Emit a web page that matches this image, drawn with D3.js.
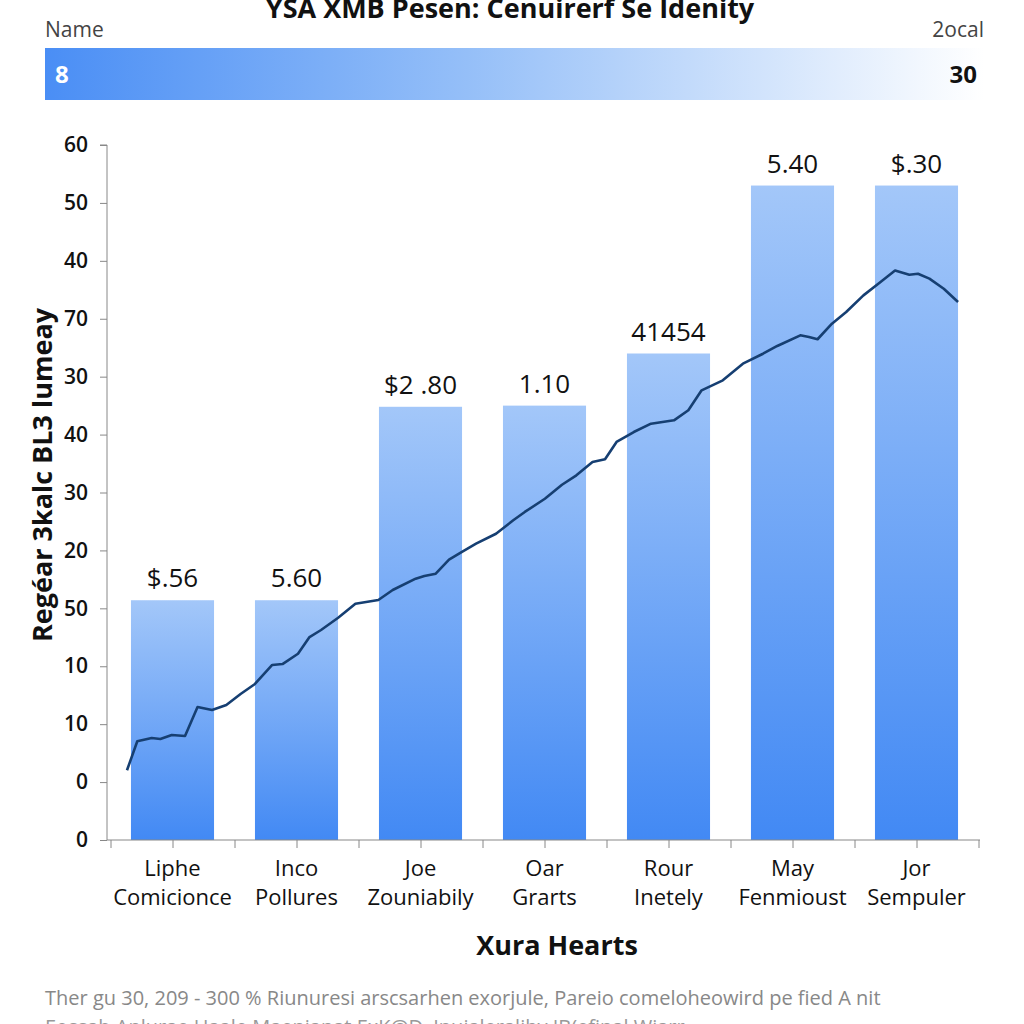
<!DOCTYPE html>
<html>
<head>
<meta charset="utf-8">
<script src="https://cdn.jsdelivr.net/npm/d3@7"></script>
<style>
html,body{margin:0;padding:0;background:#fff;}
svg{display:block;}
</style>
</head>
<body>
<svg id="chart" width="1024" height="1024"></svg>
<script>
// ---- data ----
const titleText = "YSA XMB Pesen: Cenuirerf Se Idenity";
const headerLeft = "Name";
const headerRight = "2ocal";
const headerValueLeft = "8";
const headerValueRight = "30";
const categoriesLine1 = ["Liphe", "Inco", "Joe", "Oar", "Rour", "May", "Jor"];
const categoriesLine2 = ["Comicionce", "Pollures", "Zouniabily", "Grarts", "Inetely", "Fenmioust", "Sempuler"];
const barValues = [20.7, 20.7, 37.4, 37.5, 42.0, 56.5, 56.5];
const barLabels = ["$.56", "5.60", "$2 .80", "1.10", "41454", "5.40", "$.30"];
const yTickValues = [0, 5, 10, 15, 20, 25, 30, 35, 40, 45, 50, 55, 60];
const yTickLabels = ["0", "0", "10", "10", "50", "20", "30", "40", "30", "70", "40", "50", "60"];
const lineX = [0.133,0.216,0.332,0.402,0.494,0.601,0.702,0.819,0.934,1.049,1.165,1.304,1.387,1.512,1.605,1.698,1.836,1.975,2.160,2.276,2.461,2.531,2.623,2.730,2.831,2.948,3.109,3.248,3.341,3.503,3.641,3.757,3.887,3.988,4.081,4.220,4.359,4.544,4.660,4.767,4.938,5.100,5.262,5.377,5.563,5.633,5.702,5.818,5.933,6.072,6.210,6.327,6.442,6.512,6.604,6.720,6.835];
const lineY = [6.02,8.52,8.81,8.72,9.06,8.98,11.48,11.22,11.65,12.60,13.47,15.11,15.19,16.08,17.52,18.13,19.19,20.40,20.72,21.58,22.56,22.79,22.99,24.20,24.86,25.58,26.44,27.60,28.32,29.46,30.67,31.48,32.63,32.87,34.36,35.22,35.94,36.23,37.10,38.82,39.68,41.12,41.98,42.65,43.57,43.42,43.23,44.57,45.58,47.02,48.17,49.17,48.80,48.88,48.46,47.59,46.44];
const yAxisTitle = "Regéar 3kalc BL3 lumeay";
const xAxisTitle = "Xura Hearts";
const footLine1 = "Ther gu 30, 209 - 300 % Riunuresi arscsarhen exorjule, Pareio comeloheowird pe fied A nit";
const footLine2 = "Eossah Anlurae Haale Maenianat ExK@D, Inuialeraliby IB(efinal Wiarr";

// ---- layout ----
const svg = d3.select("#chart");
const narrow = "'Liberation Sans Narrow','Open Sans',sans-serif";
const defs = svg.append("defs");

const hg = defs.append("linearGradient").attr("id","hdrGrad").attr("x1","0%").attr("x2","100%").attr("y1","0%").attr("y2","0%");
hg.append("stop").attr("offset","0%").attr("stop-color","#4a8ef5");
hg.append("stop").attr("offset","45%").attr("stop-color","#95bff8");
hg.append("stop").attr("offset","100%").attr("stop-color","#ffffff");

const bg = defs.append("linearGradient").attr("id","barGrad").attr("x1","0%").attr("x2","0%").attr("y1","0%").attr("y2","100%");
bg.append("stop").attr("offset","0%").attr("stop-color","#a3c7f9");
bg.append("stop").attr("offset","100%").attr("stop-color","#4289f4");

// title
svg.append("text").attr("x",510).attr("y",18).attr("text-anchor","middle")
  .style("font-family",narrow).style("font-weight","bold").style("font-size","27px").attr("fill","#111").text(titleText);

svg.append("text").attr("x",45).attr("y",37).style("font-family",narrow).style("font-size","21px").attr("fill","#444").text(headerLeft);
svg.append("text").attr("x",984).attr("y",37).attr("text-anchor","end").style("font-family",narrow).style("font-size","21px").attr("fill","#444").text(headerRight);

svg.append("rect").attr("x",45).attr("y",48).attr("width",939).attr("height",52).attr("fill","url(#hdrGrad)");
svg.append("text").attr("x",55).attr("y",83).style("font-family",narrow).style("font-weight","bold").style("font-size","24px").attr("fill","#fff").text(headerValueLeft);
svg.append("text").attr("x",977).attr("y",83).attr("text-anchor","end").style("font-family",narrow).style("font-weight","bold").style("font-size","24px").attr("fill","#111").text(headerValueRight);

// scales
const x = d3.scaleBand().domain(d3.range(categoriesLine1.length)).range([110.5, 978.5]).paddingInner(0.33).paddingOuter(0.165);
const xc = d3.scaleLinear().domain([0, categoriesLine1.length]).range([110.5, 978.5]);
const y = d3.scaleLinear().domain([0, 60]).range([840, 145]);

// bars
svg.append("g").selectAll("rect").data(barValues).join("rect")
  .attr("x",(d,i)=>x(i)).attr("width",x.bandwidth())
  .attr("y",d=>y(d)).attr("height",d=>y(0)-y(d))
  .attr("fill","url(#barGrad)");

// bar labels
svg.append("g").selectAll("text").data(barLabels).join("text")
  .attr("x",(d,i)=>x(i)+x.bandwidth()/2).attr("y",(d,i)=>y(barValues[i])-13)
  .attr("text-anchor","middle").style("font-family",narrow).style("font-weight","500").style("font-size","26px").attr("fill","#111").text(d=>d);

// line
const line = d3.line().x(d=>xc(d[0])).y(d=>y(d[1]));
svg.append("path").datum(lineX.map((v,i)=>[v,lineY[i]]))
  .attr("d",line).attr("fill","none").attr("stroke","#163f72").attr("stroke-width",2.6).attr("stroke-linejoin","round");

// y axis
const yAxis = d3.axisLeft(y).tickValues(yTickValues).tickFormat((d,i)=>yTickLabels[i]).tickSize(7).tickPadding(12);
const yg = svg.append("g").attr("transform","translate(107,0)").call(yAxis);
yg.select(".domain").attr("stroke","#888").attr("d","M-7,145H0V840");
yg.selectAll(".tick line").attr("stroke","#888");
yg.selectAll(".tick text").style("font-family","'Open Sans',sans-serif").style("font-weight","600").style("font-size","21px").attr("fill","#111");

// x axis
const xTickPos = d3.range(0, categoriesLine1.length + 0.5, 0.5);
const xAxis = d3.axisBottom(xc).tickValues(xTickPos).tickFormat("").tickSize(8);
const xg = svg.append("g").attr("transform","translate(0,840)").call(xAxis);
xg.select(".domain").attr("stroke","#888").attr("d","M107,0H980");
xg.selectAll(".tick line").attr("stroke","#888");

// category labels
const cl = svg.append("g").selectAll("text").data(categoriesLine1).join("text")
  .attr("text-anchor","middle").style("font-family",narrow).style("font-size","22px").attr("fill","#111");
cl.append("tspan").attr("x",(d,i)=>x(i)+x.bandwidth()/2).attr("y",876).text(d=>d);
cl.append("tspan").attr("x",(d,i)=>x(i)+x.bandwidth()/2).attr("y",905).text((d,i)=>categoriesLine2[i]);

// axis titles
svg.append("text").attr("x",557).attr("y",955).attr("text-anchor","middle").style("font-family",narrow).style("font-weight","bold").style("font-size","27px").attr("fill","#111").text(xAxisTitle);
svg.append("text").attr("transform","translate(52,475) rotate(-90)").attr("text-anchor","middle").style("font-family",narrow).style("font-weight","bold").style("font-size","27px").attr("fill","#111").text(yAxisTitle);

// footnote
svg.append("text").attr("x",45).attr("y",1005).style("font-family",narrow).style("font-size","20px").attr("fill","#888").text(footLine1);
svg.append("text").attr("x",45).attr("y",1034).style("font-family",narrow).style("font-size","20px").attr("fill","#999").text(footLine2);
</script>
</body>
</html>
